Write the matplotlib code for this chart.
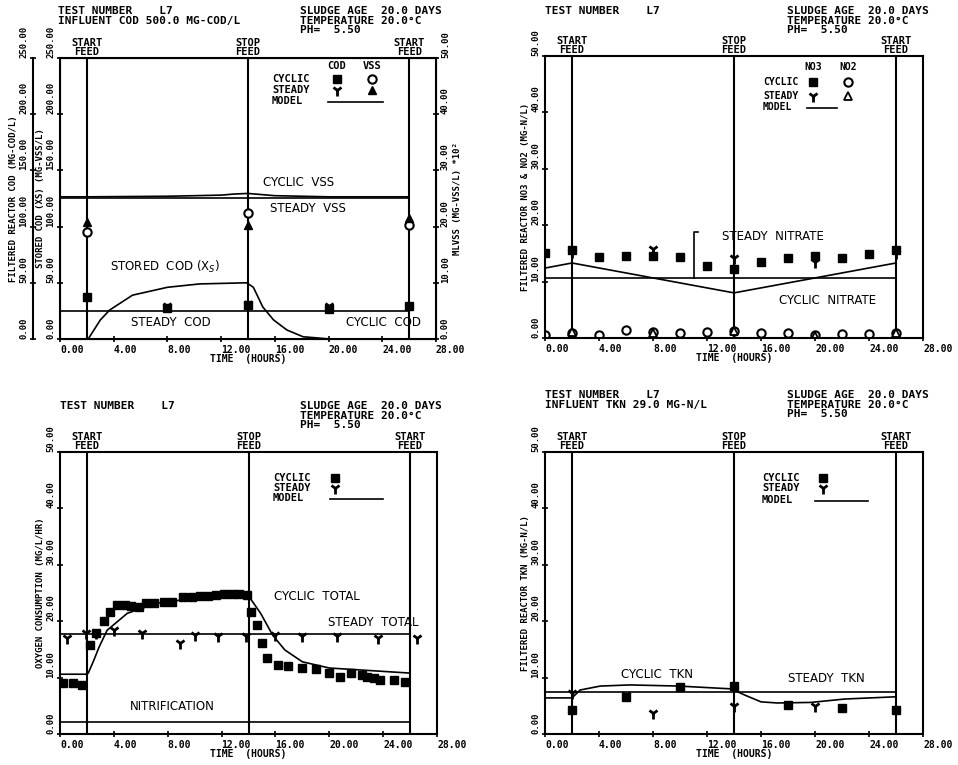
import matplotlib
matplotlib.use("Agg")
import matplotlib.pyplot as plt

W, H = 958, 765
MONO = "DejaVu Sans Mono"
SANS = "DejaVu Sans"

xticks = [0, 4, 8, 12, 16, 20, 24, 28]
feed_times = [2, 14, 26]
feed_names = ["START\nFEED", "STOP\nFEED", "START\nFEED"]
span = [0, 26]

# COD / VSS run
cod_t = [2, 8, 14, 20, 26]
cod_cyclic = [37, 28, 30, 27, 29]
cod_steady_t = [8, 14, 20]
cod_steady = [29, 31, 29]
vss_t = [2, 14, 26]
vss_cyclic = [19.1, 22.4, 20.3]
vss_steady = [20.8, 20.3, 21.5]
cod_steady_model = [25, 25]
vss_steady_model = [25.1, 25.1]
vss_cyclic_t = [0, 2, 8, 12, 13, 14, 15, 16, 20, 26]
vss_cyclic_model = [25.3, 25.3, 25.4, 25.6, 25.8, 25.9, 25.7, 25.5, 25.3, 25.3]
xs_t = [2.1, 3.0, 3.7, 5.4, 8.0, 10.4, 13.9, 14.4, 15.1, 15.9, 16.9, 18.1, 20.1]
xs_model = [0, 16.9, 25.8, 39, 46, 49, 50, 46, 28.5, 17, 8, 2, 0]

# nitrate / nitrite
no3_t = [0, 2, 4, 6, 8, 10, 12, 14, 16, 18, 20, 22, 24, 26]
no3_cyclic = [15.1, 15.6, 14.3, 14.5, 14.5, 14.4, 12.8, 12.2, 13.5, 14.2, 14.5, 14.2, 14.9, 15.6]
no2_cyclic = [0.5, 0.9, 0.5, 1.4, 1.1, 0.9, 1.1, 1.3, 0.9, 0.9, 0.5, 0.7, 0.7, 0.9]
steady_t = [2, 8, 14, 20, 26]
no3_steady = [15.2, 15.8, 14.2, 13.5, 15.0]
no2_steady = [1.0, 0.8, 1.2, 0.4, 0.8]
no3_steady_model = [10.6, 10.6]
no3_cyclic_t = [0, 2, 14, 26]
no3_cyclic_model = [12.4, 13.3, 8.0, 13.3]

# oxygen consumption
ouc_t = [0.2, 1.0, 1.6, 2.2, 2.7, 3.3, 3.7, 4.2, 4.8, 5.3, 5.9, 6.4, 7.0, 7.7,
         8.3, 9.1, 9.8, 10.4, 11.0, 11.6, 12.2, 12.8, 13.3, 13.9, 14.2, 14.6,
         15.0, 15.4, 16.2, 16.9, 18.0, 19.0, 20.0, 20.8, 21.6, 22.4, 22.8,
         23.3, 23.8, 24.8, 25.6]
ouc_cyclic = [9.0, 9.0, 8.7, 15.8, 17.9, 20.0, 21.6, 22.9, 22.9, 22.7, 22.5,
              23.2, 23.2, 23.4, 23.4, 24.3, 24.3, 24.5, 24.5, 24.6, 24.8, 24.8,
              24.8, 24.6, 21.6, 19.3, 16.1, 13.5, 12.2, 12.1, 11.7, 11.5, 10.8,
              10.1, 10.8, 10.5, 10.1, 9.9, 9.6, 9.6, 9.2]
ouc_steady_t = [0.5, 1.9, 2.7, 4.0, 6.1, 8.9, 10.0, 11.7, 13.8, 16.0, 18.0, 20.6, 23.6, 26.5]
ouc_steady = [17.0, 17.9, 17.9, 18.4, 17.9, 16.1, 17.5, 17.4, 17.4, 17.5, 17.4, 17.4, 17.0, 17.0]
ouc_steady_model = [17.7, 17.7]
nitrification_model = [2.1, 2.1]
ouc_model_t = [0, 2, 2.1, 2.5, 2.9, 3.5, 5.0, 7.2, 9.5, 14.0, 14.9, 15.8, 16.7, 18.0, 20.0, 26]
ouc_cyclic_model = [10.6, 10.6, 10.8, 13.0, 15.4, 18.4, 21.4, 23.2, 23.9, 24.5, 21.4, 17.5, 14.9, 12.8, 11.7, 10.8]

# TKN
tkn_t = [2, 6, 10, 14, 18, 22, 26]
tkn_cyclic = [4.3, 6.6, 8.3, 8.5, 5.1, 4.6, 4.3]
tkn_steady_t = [2, 6, 8, 14, 20]
tkn_steady = [7.2, 6.9, 3.7, 5.0, 5.0]
tkn_steady_model = [7.4, 7.4]
tkn_model_t = [0, 2, 2.6, 4.1, 6.3, 9.9, 13.8, 14.8, 16.0, 17.2, 19.7, 22.2, 26]
tkn_cyclic_model = [6.4, 6.4, 7.8, 8.5, 8.7, 8.5, 8.0, 6.9, 5.7, 5.5, 5.6, 6.2, 6.6]

CYC = dict(marker="s", ms=5.5, color="k", ls="none")
STD = dict(marker="1", ms=8, mew=2, color="k", ls="none")
CIRC = dict(marker="o", ms=6, mfc="white", mec="k", mew=1.5, ls="none")
TRI = dict(marker="^", ms=6, color="k", ls="none")
TRI_OPEN = dict(marker="^", ms=6, mfc="white", mec="k", mew=1.3, ls="none")
LINE = dict(color="k", lw=1.2)

fig = plt.figure(figsize=(W / 100, H / 100), dpi=100)


def add_panel(box):
    l, t, r, b = box
    ax = fig.add_axes([l / W, 1 - b / H, (r - l) / W, (b - t) / H])
    ax.set_xlim(0, 28)
    ax.set_xticks(xticks)
    ax.set_xticklabels([f"{v:.2f}" for v in xticks], ha="left",
                       family=MONO, fontweight="bold", fontsize=7)
    ax.tick_params(direction="inout", length=5, width=1.2, pad=2)
    for sp in ax.spines.values():
        sp.set_linewidth(1.5)
    ax.set_xlabel("TIME  (HOURS)", family=MONO, fontweight="bold", fontsize=7, labelpad=-1)
    for t, name in zip(feed_times, feed_names):
        ax.axvline(t, color="k", lw=1.5)
        ax.text(t, 1.003, name, transform=ax.get_xaxis_transform(), ha="center", va="bottom",
                family=MONO, fontweight="bold", fontsize=7.5, linespacing=0.9)
    return ax


def set_y(ax, lim, step, label, pad=1):
    ticks = list(range(0, lim + 1, step))
    ax.set_ylim(0, lim)
    ax.set_yticks(ticks)
    ax.set_yticklabels([f"{v:.2f}" for v in ticks], rotation=90, va="bottom",
                       family=MONO, fontweight="bold", fontsize=6.5)
    ax.set_ylabel(label, family=MONO, fontweight="bold", fontsize=6.5, labelpad=pad)
    ax.tick_params(axis="y", direction="inout", length=5, width=1.2, pad=1)


def header(x, y, s):
    fig.text(x / W, 1 - y / H, s, ha="left", va="top", family=MONO,
             fontweight="bold", fontsize=8, linespacing=0.95)


def note(x, y, s):
    fig.text(x / W, 1 - y / H, s, ha="center", va="center", family=SANS, fontsize=8.5)


def legend(ax, x0, ys, cols, line_x, head_y=None, size=7.5):
    for y, name in zip(ys, ["CYCLIC", "STEADY", "MODEL"]):
        ax.text(x0, y, name, transform=ax.transAxes, ha="left", va="center",
                family=MONO, fontweight="bold", fontsize=size)
    for x, head, cs, ss in cols:
        if head:
            ax.text(x, head_y, head, transform=ax.transAxes, ha="center", va="center",
                    family=MONO, fontweight="bold", fontsize=size)
        ax.plot([x], [ys[0]], transform=ax.transAxes, **cs)
        ax.plot([x], [ys[1]], transform=ax.transAxes, **ss)
    ax.plot(line_x, [ys[2] - 0.005] * 2, transform=ax.transAxes, **LINE)


# --- COD and VSS
ax1 = add_panel((60, 58, 436, 339))
set_y(ax1, 250, 50, "STORED COD (XS) (MG-VSS/L)")
ax_out = ax1.twinx()
for side in ["right", "top", "bottom"]:
    ax_out.spines[side].set_visible(False)
ax_out.spines["left"].set_visible(True)
ax_out.spines["left"].set_position(("outward", 19.4))
ax_out.spines["left"].set_linewidth(1.5)
ax_out.yaxis.set_ticks_position("left")
ax_out.yaxis.set_label_position("left")
set_y(ax_out, 250, 50, "FILTERED REACTOR COD (MG-COD/L)")
ax_vss = ax1.twinx()
set_y(ax_vss, 50, 10, "MLVSS (MG-VSS/L) *10²", pad=2)
ax_vss.set_ylabel("MLVSS (MG-VSS/L) *10²", rotation=90, family=MONO,
                  fontweight="bold", fontsize=6.5, labelpad=2)

ax1.plot(span, cod_steady_model, **LINE)
ax1.plot(xs_t, xs_model, **LINE)
ax1.plot(cod_t, cod_cyclic, **CYC)
ax1.plot(cod_steady_t, cod_steady, **STD)
ax_vss.plot(span, vss_steady_model, **LINE)
ax_vss.plot(vss_cyclic_t, vss_cyclic_model, **LINE)
ax_vss.plot(vss_t, vss_cyclic, **CIRC)
ax_vss.plot(vss_t, vss_steady, **TRI)
legend(ax1, 0.564, [0.925, 0.886, 0.847],
       [(0.737, "COD", CYC, STD), (0.830, "VSS", CIRC, TRI)],
       [0.713, 0.859], head_y=0.972)
header(58, 6, "TEST NUMBER    L7\nINFLUENT COD 500.0 MG-COD/L")
header(300, 6, "SLUDGE AGE  20.0 DAYS\nTEMPERATURE 20.0°C\nPH=  5.50")
note(299, 183, "CYCLIC  VSS")
note(308, 209, "STEADY  VSS")
note(165, 267, "STORED  COD (X$_S$)")
note(171, 322, "STEADY  COD")
note(383, 322, "CYCLIC  COD")

# --- nitrate and nitrite
ax2 = add_panel((545, 56, 923, 338))
set_y(ax2, 50, 10, "FILTERED REACTOR NO3 & NO2 (MG-N/L)")
ax2.plot(span, no3_steady_model, **LINE)
ax2.plot(no3_cyclic_t, no3_cyclic_model, **LINE)
ax2.plot(no3_t, no3_cyclic, **CYC)
ax2.plot(steady_t, no3_steady, **STD)
ax2.plot(no3_t, no2_cyclic, **CIRC)
ax2.plot(steady_t, no2_steady, **TRI_OPEN)
# leader from the steady nitrate line up to its label
ax2.plot([11, 11, 11.3], [no3_steady_model[0], 18.8, 18.8], color="k", lw=1.2)
legend(ax2, 0.577, [0.908, 0.858, 0.819],
       [(0.709, "NO3", CYC, STD), (0.802, "NO2", CIRC, TRI_OPEN)],
       [0.693, 0.772], head_y=0.961, size=7)
header(545, 6, "TEST NUMBER    L7")
header(787, 6, "SLUDGE AGE  20.0 DAYS\nTEMPERATURE 20.0°C\nPH=  5.50")
note(773, 237, "STEADY  NITRATE")
note(828, 301, "CYCLIC  NITRATE")

# --- oxygen consumption
ax3 = add_panel((60, 452, 437, 734))
set_y(ax3, 50, 10, "OXYGEN CONSUMPTION (MG/L/HR)")
ax3.plot(span, ouc_steady_model, **LINE)
ax3.plot(span, nitrification_model, **LINE)
ax3.plot(ouc_model_t, ouc_cyclic_model, **LINE)
ax3.plot(ouc_t, ouc_cyclic, **CYC)
ax3.plot(ouc_steady_t, ouc_steady, **STD)
legend(ax3, 0.565, [0.908, 0.872, 0.837], [(0.729, None, CYC, STD)], [0.717, 0.857])
header(60, 401, "TEST NUMBER    L7")
header(300, 401, "SLUDGE AGE  20.0 DAYS\nTEMPERATURE 20.0°C\nPH=  5.50")
note(317, 596, "CYCLIC  TOTAL")
note(373, 622, "STEADY  TOTAL")
note(172, 706, "NITRIFICATION")

# --- TKN
ax4 = add_panel((545, 452, 923, 734))
set_y(ax4, 50, 10, "FILTERED REACTOR TKN (MG-N/L)")
ax4.plot(span, tkn_steady_model, **LINE)
ax4.plot(tkn_model_t, tkn_cyclic_model, **LINE)
ax4.plot(tkn_t, tkn_cyclic, **CYC)
ax4.plot(tkn_steady_t, tkn_steady, **STD)
legend(ax4, 0.574, [0.908, 0.872, 0.830], [(0.735, None, CYC, STD)], [0.714, 0.854])
header(545, 390, "TEST NUMBER    L7\nINFLUENT TKN 29.0 MG-N/L")
header(787, 390, "SLUDGE AGE  20.0 DAYS\nTEMPERATURE 20.0°C\nPH=  5.50")
note(657, 674, "CYCLIC  TKN")
note(826, 679, "STEADY  TKN")

plt.savefig("out.png", dpi=100, facecolor="white")
